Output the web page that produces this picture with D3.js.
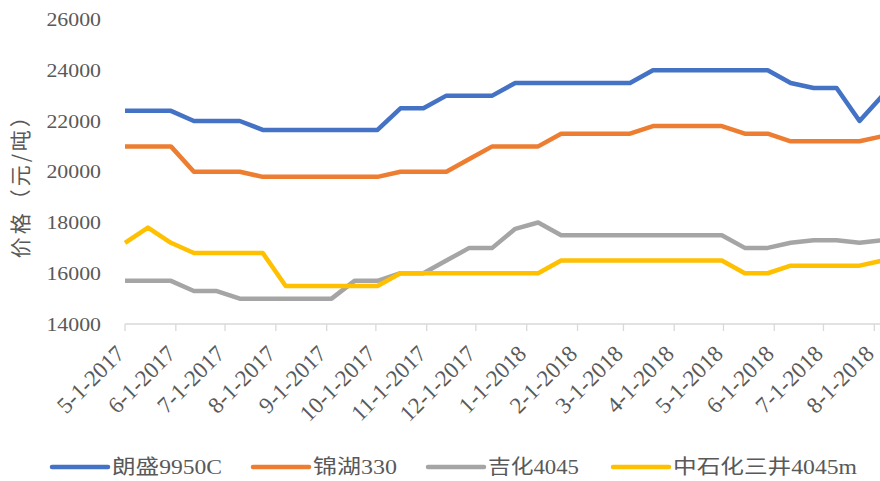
<!DOCTYPE html>
<html>
<head>
<meta charset="utf-8">
<script src="https://cdn.jsdelivr.net/npm/d3@7"></script>
<style>
  html, body { margin: 0; padding: 0; background: #fff; }
  svg { display: block; }
</style>
</head>
<body>
<svg id="chart" width="880" height="481"></svg>
<script>
// ---- data ----
const dates = ["2017-05-01","2017-05-15","2017-05-29","2017-06-12","2017-06-26","2017-07-10","2017-07-24",
  "2017-08-07","2017-08-21","2017-09-04","2017-09-18","2017-10-02","2017-10-16","2017-10-30","2017-11-13",
  "2017-11-27","2017-12-11","2017-12-25","2018-01-08","2018-01-22","2018-02-05","2018-02-19","2018-03-05",
  "2018-03-19","2018-04-02","2018-04-16","2018-04-30","2018-05-14","2018-05-28","2018-06-11","2018-06-25",
  "2018-07-09","2018-07-23","2018-08-06"];
const seriesNames = ["朗盛9950C", "锦湖330", "吉化4045", "中石化三井4045m"];
const langsheng = [22400,22400,22400,22000,22000,22000,21650,21650,21650,21650,21650,21650,22500,22500,23000,23000,23000,
  23500,23500,23500,23500,23500,23500,24000,24000,24000,24000,24000,24000,23500,23300,23300,22000,23000];
const jinhu = [21000,21000,21000,20000,20000,20000,19800,19800,19800,19800,19800,19800,20000,20000,20000,20500,21000,
  21000,21000,21500,21500,21500,21500,21800,21800,21800,21800,21500,21500,21200,21200,21200,21200,21400];
const jihua = [15700,15700,15700,15300,15300,15000,15000,15000,15000,15000,15700,15700,16000,16000,16500,17000,17000,
  17750,18000,17500,17500,17500,17500,17500,17500,17500,17500,17000,17000,17200,17300,17300,17200,17300];
const sinopec = [17200,17800,17200,16800,16800,16800,16800,15500,15500,15500,15500,15500,16000,16000,16000,16000,16000,
  16000,16000,16500,16500,16500,16500,16500,16500,16500,16500,16000,16000,16300,16300,16300,16300,16500];
const yTicks = [14000,16000,18000,20000,22000,24000,26000];
const xTickStart = "2017-05-01", xTickEnd = "2018-08-01";
const yTitle = "价格（元/吨）";
const colors = ["#4472C4", "#ED7D31", "#A5A5A5", "#FFC000"];

// ---- layout ----
const parse = d3.timeParse("%Y-%m-%d");
const xDates = dates.map(parse);
const allSeries = [langsheng, jinhu, jihua, sinopec];
const svg = d3.select("#chart");
const textColor = "#595959";
const numFont = "'Liberation Serif', 'Times New Roman', 'Noto Sans CJK SC', serif";
const sx = 1.15; // horizontal stretch of y tick text as seen in reference

const x = d3.scaleTime().domain([parse(xTickStart), parse(xTickEnd)]).range([125, 874.3]);
const y = d3.scaleLinear().domain([14000, 26000]).range([324, 19.5]);

// x axis
const monthTicks = d3.timeMonth.range(parse(xTickStart), d3.timeDay.offset(parse(xTickEnd), 1));
const fmt = d => (d.getMonth() + 1) + "-" + d.getDate() + "-" + d.getFullYear();
const xAxis = svg.append("g");
xAxis.append("line")
  .attr("x1", x(parse(xTickStart))).attr("x2", x(xDates[xDates.length - 1]))
  .attr("y1", y(14000)).attr("y2", y(14000))
  .attr("stroke", "#d9d9d9").attr("stroke-width", 1.3);
xAxis.selectAll("line.tick").data(monthTicks).join("line").attr("class", "tick")
  .attr("x1", d => x(d)).attr("x2", d => x(d))
  .attr("y1", y(14000)).attr("y2", y(14000) + 7)
  .attr("stroke", "#d9d9d9").attr("stroke-width", 1.3);
xAxis.selectAll("text").data(monthTicks).join("text")
  .attr("transform", d => `translate(${x(d) + 1},${y(14000) + 31}) rotate(-45)`)
  .attr("text-anchor", "end")
  .attr("font-family", numFont).attr("font-size", 23)
  .attr("fill", textColor)
  .text(fmt);

// y tick labels
svg.append("g").selectAll("text").data(yTicks).join("text")
  .attr("transform", d => `translate(101,${y(d)}) scale(${sx},1)`)
  .attr("text-anchor", "end").attr("dy", "0.35em")
  .attr("font-family", numFont).attr("font-size", 19)
  .attr("fill", textColor)
  .text(d => d);

// y title
svg.append("text")
  .attr("transform", `translate(21,${(y(14000) + y(26000)) / 2 + 9}) rotate(-90)`)
  .attr("text-anchor", "middle").attr("dy", "0.35em")
  .attr("font-family", "'Noto Sans CJK SC', sans-serif").attr("font-size", 21)
  .attr("letter-spacing", 3)
  .attr("fill", textColor)
  .text(yTitle);

// lines
const line = d3.line().x((d, i) => x(xDates[i])).y(d => y(d));
svg.append("g").selectAll("path").data(allSeries).join("path")
  .attr("d", d => line(d))
  .attr("fill", "none")
  .attr("stroke", (d, i) => colors[i])
  .attr("stroke-width", 4.5)
  .attr("stroke-linejoin", "round")
  .attr("stroke-linecap", "butt");

// legend
const legendX = [52, 253, 428, 613];
const legendTextW = [110, 84, 91, 184];
const legendY = 467;
const lg = svg.append("g").selectAll("g").data(seriesNames).join("g")
  .attr("transform", (d, i) => `translate(${legendX[i]},${legendY})`);
lg.append("line").attr("x1", 0).attr("x2", 56).attr("y1", 0).attr("y2", 0)
  .attr("stroke", (d, i) => colors[i]).attr("stroke-width", 4.5).attr("stroke-linecap", "round");
lg.append("text")
  .attr("x", 60)
  .attr("dy", "0.35em")
  .attr("font-family", numFont).attr("font-size", 20)
  .attr("textLength", (d, i) => legendTextW[i]).attr("lengthAdjust", "spacingAndGlyphs")
  .attr("fill", textColor)
  .text(d => d);
</script>
</body>
</html>
